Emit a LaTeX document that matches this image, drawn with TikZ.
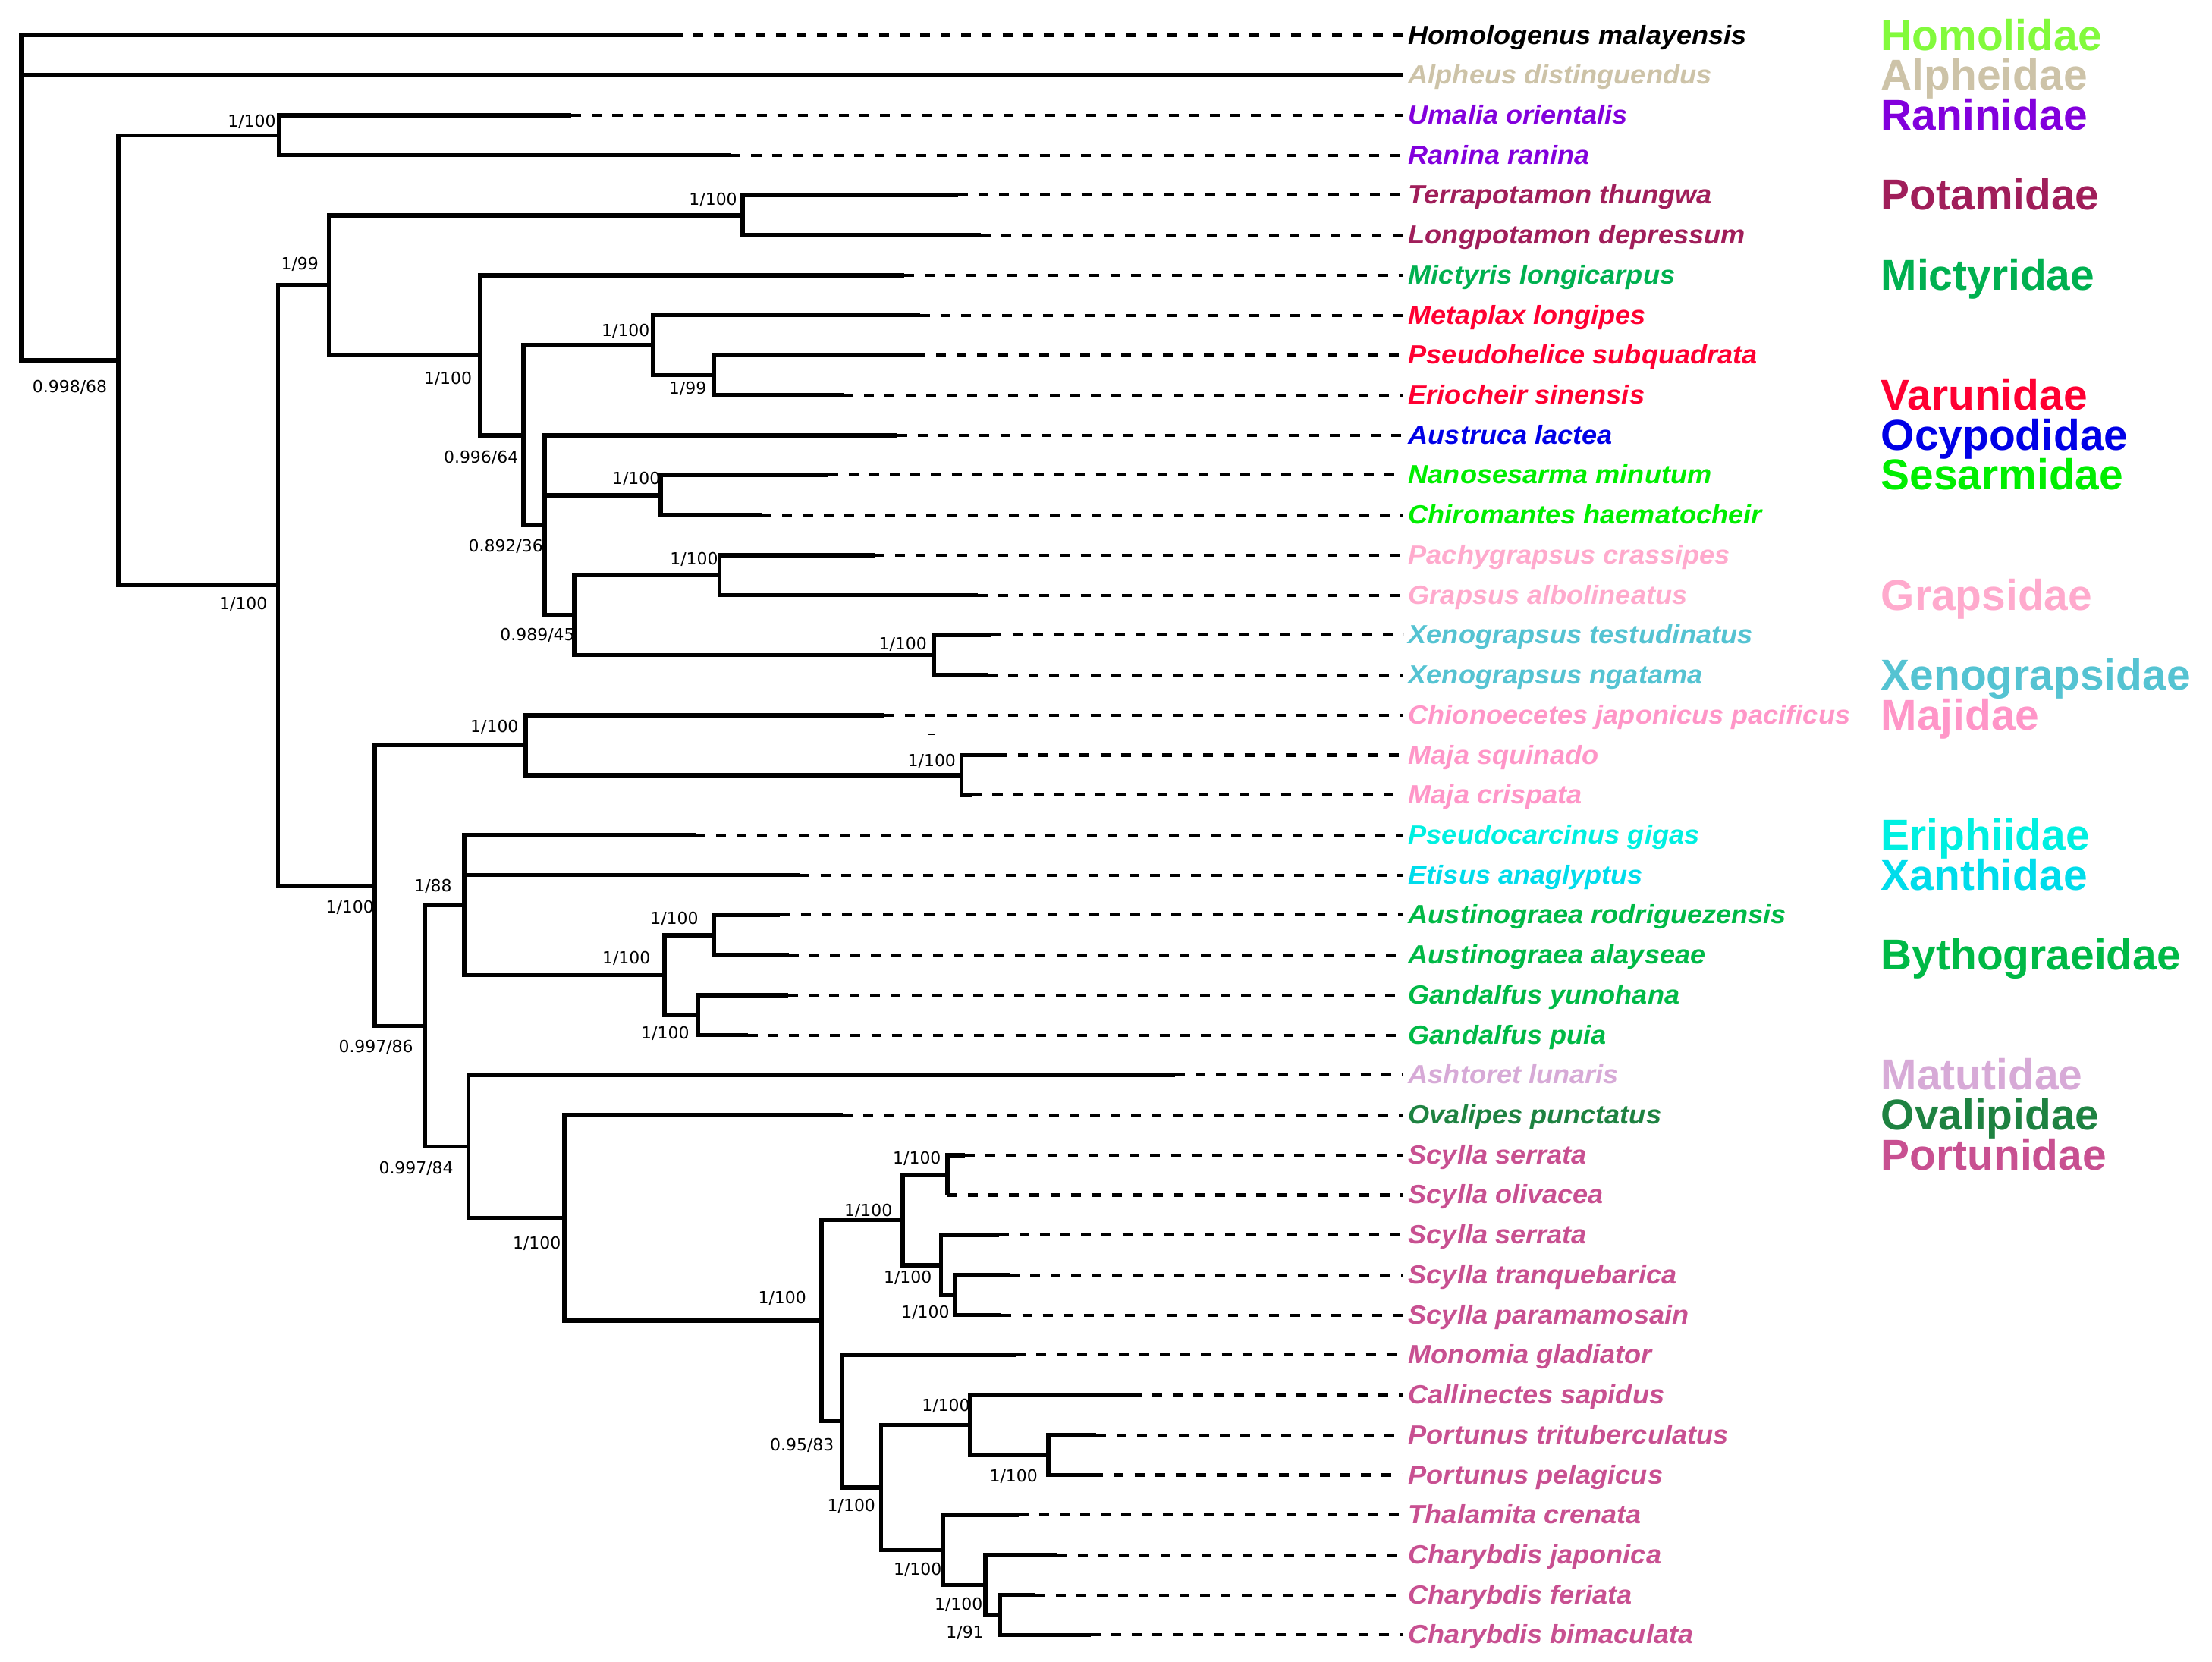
\documentclass[tikz,border=0pt]{standalone}
\usepackage{fontspec}
\usepackage{color}
\usepackage{tikz}
\newfontfamily\leaffont[FakeStretch=1.045]{Liberation Sans Bold Italic}
\newfontfamily\famfont{Liberation Sans}
\newfontfamily\suppfont{DejaVu Sans}
\definecolor{homolidae}{RGB}{130,250,60}
\definecolor{alpheidae}{RGB}{205,195,168}
\definecolor{raninidae}{RGB}{130,0,220}
\definecolor{potamidae}{RGB}{160,30,90}
\definecolor{mictyridae}{RGB}{0,176,80}
\definecolor{varunidae}{RGB}{255,0,50}
\definecolor{ocypodidae}{RGB}{0,0,230}
\definecolor{sesarmidae}{RGB}{0,238,0}
\definecolor{grapsidae}{RGB}{255,170,205}
\definecolor{xenograpsidae}{RGB}{85,195,210}
\definecolor{majidae}{RGB}{255,150,200}
\definecolor{eriphiidae}{RGB}{0,240,225}
\definecolor{xanthidae}{RGB}{0,220,235}
\definecolor{bythograeidae}{RGB}{0,185,70}
\definecolor{matutidae}{RGB}{215,170,215}
\definecolor{ovalipidae}{RGB}{30,130,65}
\definecolor{portunidae}{RGB}{200,80,145}

\begin{document}
\begin{tikzpicture}[x=0.5pt,y=-0.5pt,
  branch/.style={line width=1.5pt},
  tipline/.style={line width=1.1pt,dash pattern=on 3.5pt off 3.8pt},
  leaf/.style={anchor=west,inner sep=0pt,text height=8pt,text depth=1.8pt,font=\leaffont\fontsize{9.3}{11}\selectfont},
  fam/.style={anchor=west,inner sep=0pt,text height=13pt,text depth=2.5pt,font=\famfont\bfseries\fontsize{15.3}{18}\selectfont},
  supp/.style={inner sep=0pt,text height=4.3pt,text depth=0pt,font=\suppfont\fontsize{5.9}{7}\selectfont}]
\useasboundingbox (0,0) rectangle (1568,1178);

\coordinate (root) at (15,140.2);
\coordinate (A) at (84,255.4);
\coordinate (ran) at (197.5,95.9);
\coordinate (B) at (197,414.9);
\coordinate (C) at (233,202.2);
\coordinate (pot) at (526.5,152.6);
\coordinate (D) at (340,251.8);
\coordinate (E) at (371,308.5);
\coordinate (F) at (463,244.7);
\coordinate (G) at (506,266);
\coordinate (H) at (386,372.3);
\coordinate (ses) at (468.5,351);
\coordinate (I) at (407,436.1);
\coordinate (gra) at (510,407.7);
\coordinate (xen) at (662,464.4);
\coordinate (J) at (265.5,627.7);
\coordinate (maj) at (372.5,528.2);
\coordinate (maja) at (681.5,549.5);
\coordinate (K) at (301,727.2);
\coordinate (L) at (329,641.6);
\coordinate (M) at (471,691.2);
\coordinate (aus) at (506,662.9);
\coordinate (gan) at (495,719.6);
\coordinate (N) at (332,812.7);
\coordinate (O) at (400,863.3);
\coordinate (P) at (582.5,936.2);
\coordinate (Q) at (640,864.9);
\coordinate (R) at (671.5,833);
\coordinate (S) at (667,896.8);
\coordinate (T) at (677,918);
\coordinate (U) at (597,1007.5);
\coordinate (V) at (624.5,1054.5);
\coordinate (W) at (687.5,1010.2);
\coordinate (X) at (743,1031.4);
\coordinate (Y) at (668.5,1098.8);
\coordinate (Z) at (698.5,1123.6);
\coordinate (AA) at (709,1144.8);

\coordinate (t0) at (477,25);
\coordinate (t1) at (995,53.35);
\coordinate (t2) at (405,81.7);
\coordinate (t3) at (518,110.05);
\coordinate (t4) at (679,138.4);
\coordinate (t5) at (695,166.75);
\coordinate (t6) at (641,195.1);
\coordinate (t7) at (652,223.45);
\coordinate (t8) at (649,251.8);
\coordinate (t9) at (598,280.15);
\coordinate (t10) at (636,308.5);
\coordinate (t11) at (587,336.85);
\coordinate (t12) at (540,365.2);
\coordinate (t13) at (620,393.55);
\coordinate (t14) at (693,421.9);
\coordinate (t15) at (703,450.25);
\coordinate (t16) at (700,478.6);
\coordinate (t17) at (627,506.95);
\coordinate (t18) at (707,535.3);
\coordinate (t19) at (689,563.65);
\coordinate (t20) at (493,592);
\coordinate (t21) at (567,620.35);
\coordinate (t22) at (553,648.7);
\coordinate (t23) at (559,677.05);
\coordinate (t24) at (558.5,705.4);
\coordinate (t25) at (530,733.75);
\coordinate (t26) at (833,762.1);
\coordinate (t27) at (597.5,790.45);
\coordinate (t28) at (684,818.8);
\coordinate (t29) at (671.5,847.15);
\coordinate (t30) at (708,875.5);
\coordinate (t31) at (715.5,903.85);
\coordinate (t32) at (710,932.2);
\coordinate (t33) at (720,960.55);
\coordinate (t34) at (802,988.9);
\coordinate (t35) at (777,1017.25);
\coordinate (t36) at (775,1045.6);
\coordinate (t37) at (722,1073.95);
\coordinate (t38) at (749.5,1102.3);
\coordinate (t39) at (734,1130.65);
\coordinate (t40) at (773,1159);

\draw[branch] (root) |- (t0) (root) |- (t1) (root) |- (A);
\draw[branch] (A) |- (ran) (A) |- (B);
\draw[branch] (ran) |- (t2) (ran) |- (t3);
\draw[branch] (B) |- (C) (B) |- (J);
\draw[branch] (C) |- (pot) (C) |- (D);
\draw[branch] (pot) |- (t4) (pot) |- (t5);
\draw[branch] (D) |- (t6) (D) |- (E);
\draw[branch] (E) |- (F) (E) |- (H);
\draw[branch] (F) |- (t7) (F) |- (G);
\draw[branch] (G) |- (t8) (G) |- (t9);
\draw[branch] (H) |- (t10) (H) |- (ses) (H) |- (I);
\draw[branch] (ses) |- (t11) (ses) |- (t12);
\draw[branch] (I) |- (gra) (I) |- (xen);
\draw[branch] (gra) |- (t13) (gra) |- (t14);
\draw[branch] (xen) |- (t15) (xen) |- (t16);
\draw[branch] (J) |- (maj) (J) |- (K);
\draw[branch] (maj) |- (t17) (maj) |- (maja);
\draw[branch] (maja) |- (t18) (maja) |- (t19);
\draw[branch] (K) |- (L) (K) |- (N);
\draw[branch] (L) |- (t20) (L) |- (t21) (L) |- (M);
\draw[branch] (M) |- (aus) (M) |- (gan);
\draw[branch] (aus) |- (t22) (aus) |- (t23);
\draw[branch] (gan) |- (t24) (gan) |- (t25);
\draw[branch] (N) |- (t26) (N) |- (O);
\draw[branch] (O) |- (t27) (O) |- (P);
\draw[branch] (P) |- (Q) (P) |- (U);
\draw[branch] (Q) |- (R) (Q) |- (S);
\draw[branch] (R) |- (t28) (R) |- (t29);
\draw[branch] (S) |- (t30) (S) |- (T);
\draw[branch] (T) |- (t31) (T) |- (t32);
\draw[branch] (U) |- (t33) (U) |- (V);
\draw[branch] (V) |- (W) (V) |- (Y);
\draw[branch] (W) |- (t34) (W) |- (X);
\draw[branch] (X) |- (t35) (X) |- (t36);
\draw[branch] (Y) |- (t37) (Y) |- (Z);
\draw[branch] (Z) |- (t38) (Z) |- (AA);
\draw[branch] (AA) |- (t39) (AA) |- (t40);

\node[leaf] (l0) at (998,25) {Homologenus malayensis};
\node[leaf,text=alpheidae] (l1) at (998,53.35) {Alpheus distinguendus};
\node[leaf,text=raninidae] (l2) at (998,81.7) {Umalia orientalis};
\node[leaf,text=raninidae] (l3) at (998,110.05) {Ranina ranina};
\node[leaf,text=potamidae] (l4) at (998,138.4) {Terrapotamon thungwa};
\node[leaf,text=potamidae] (l5) at (998,166.75) {Longpotamon depressum};
\node[leaf,text=mictyridae] (l6) at (998,195.1) {Mictyris longicarpus};
\node[leaf,text=varunidae] (l7) at (998,223.45) {Metaplax longipes};
\node[leaf,text=varunidae] (l8) at (998,251.8) {Pseudohelice subquadrata};
\node[leaf,text=varunidae] (l9) at (998,280.15) {Eriocheir sinensis};
\node[leaf,text=ocypodidae] (l10) at (998,308.5) {Austruca lactea};
\node[leaf,text=sesarmidae] (l11) at (998,336.85) {Nanosesarma minutum};
\node[leaf,text=sesarmidae] (l12) at (998,365.2) {Chiromantes haematocheir};
\node[leaf,text=grapsidae] (l13) at (998,393.55) {Pachygrapsus crassipes};
\node[leaf,text=grapsidae] (l14) at (998,421.9) {Grapsus albolineatus};
\node[leaf,text=xenograpsidae] (l15) at (998,450.25) {Xenograpsus testudinatus};
\node[leaf,text=xenograpsidae] (l16) at (998,478.6) {Xenograpsus ngatama};
\node[leaf,text=majidae] (l17) at (998,506.95) {Chionoecetes japonicus pacificus};
\node[leaf,text=majidae] (l18) at (998,535.3) {Maja squinado};
\node[leaf,text=majidae] (l19) at (998,563.65) {Maja crispata};
\node[leaf,text=eriphiidae] (l20) at (998,592) {Pseudocarcinus gigas};
\node[leaf,text=xanthidae] (l21) at (998,620.35) {Etisus anaglyptus};
\node[leaf,text=bythograeidae] (l22) at (998,648.7) {Austinograea rodriguezensis};
\node[leaf,text=bythograeidae] (l23) at (998,677.05) {Austinograea alayseae};
\node[leaf,text=bythograeidae] (l24) at (998,705.4) {Gandalfus yunohana};
\node[leaf,text=bythograeidae] (l25) at (998,733.75) {Gandalfus puia};
\node[leaf,text=matutidae] (l26) at (998,762.1) {Ashtoret lunaris};
\node[leaf,text=ovalipidae] (l27) at (998,790.45) {Ovalipes punctatus};
\node[leaf,text=portunidae] (l28) at (998,818.8) {Scylla serrata};
\node[leaf,text=portunidae] (l29) at (998,847.15) {Scylla olivacea};
\node[leaf,text=portunidae] (l30) at (998,875.5) {Scylla serrata};
\node[leaf,text=portunidae] (l31) at (998,903.85) {Scylla tranquebarica};
\node[leaf,text=portunidae] (l32) at (998,932.2) {Scylla paramamosain};
\node[leaf,text=portunidae] (l33) at (998,960.55) {Monomia gladiator};
\node[leaf,text=portunidae] (l34) at (998,988.9) {Callinectes sapidus};
\node[leaf,text=portunidae] (l35) at (998,1017.25) {Portunus trituberculatus};
\node[leaf,text=portunidae] (l36) at (998,1045.6) {Portunus pelagicus};
\node[leaf,text=portunidae] (l37) at (998,1073.95) {Thalamita crenata};
\node[leaf,text=portunidae] (l38) at (998,1102.3) {Charybdis japonica};
\node[leaf,text=portunidae] (l39) at (998,1130.65) {Charybdis feriata};
\node[leaf,text=portunidae] (l40) at (998,1159) {Charybdis bimaculata};

\draw[tipline] (t0) -- ([xshift=-1.5pt]l0.west);
\draw[tipline] (t2) -- ([xshift=-1.5pt]l2.west);
\draw[tipline] (t3) -- ([xshift=-1.5pt]l3.west);
\draw[tipline] (t4) -- ([xshift=-1.5pt]l4.west);
\draw[tipline] (t5) -- ([xshift=-1.5pt]l5.west);
\draw[tipline] (t6) -- ([xshift=-1.5pt]l6.west);
\draw[tipline] (t7) -- ([xshift=-1.5pt]l7.west);
\draw[tipline] (t8) -- ([xshift=-1.5pt]l8.west);
\draw[tipline] (t9) -- ([xshift=-1.5pt]l9.west);
\draw[tipline] (t10) -- ([xshift=-1.5pt]l10.west);
\draw[tipline] (t11) -- ([xshift=-1.5pt]l11.west);
\draw[tipline] (t12) -- ([xshift=-1.5pt]l12.west);
\draw[tipline] (t13) -- ([xshift=-1.5pt]l13.west);
\draw[tipline] (t14) -- ([xshift=-1.5pt]l14.west);
\draw[tipline] (t15) -- ([xshift=-1.5pt]l15.west);
\draw[tipline] (t16) -- ([xshift=-1.5pt]l16.west);
\draw[tipline] (t17) -- ([xshift=-1.5pt]l17.west);
\draw[tipline] (t18) -- ([xshift=-1.5pt]l18.west);
\draw[tipline] (t19) -- ([xshift=-1.5pt]l19.west);
\draw[tipline] (t20) -- ([xshift=-1.5pt]l20.west);
\draw[tipline] (t21) -- ([xshift=-1.5pt]l21.west);
\draw[tipline] (t22) -- ([xshift=-1.5pt]l22.west);
\draw[tipline] (t23) -- ([xshift=-1.5pt]l23.west);
\draw[tipline] (t24) -- ([xshift=-1.5pt]l24.west);
\draw[tipline] (t25) -- ([xshift=-1.5pt]l25.west);
\draw[tipline] (t26) -- ([xshift=-1.5pt]l26.west);
\draw[tipline] (t27) -- ([xshift=-1.5pt]l27.west);
\draw[tipline] (t28) -- ([xshift=-1.5pt]l28.west);
\draw[tipline] (t29) -- ([xshift=-1.5pt]l29.west);
\draw[tipline] (t30) -- ([xshift=-1.5pt]l30.west);
\draw[tipline] (t31) -- ([xshift=-1.5pt]l31.west);
\draw[tipline] (t32) -- ([xshift=-1.5pt]l32.west);
\draw[tipline] (t33) -- ([xshift=-1.5pt]l33.west);
\draw[tipline] (t34) -- ([xshift=-1.5pt]l34.west);
\draw[tipline] (t35) -- ([xshift=-1.5pt]l35.west);
\draw[tipline] (t36) -- ([xshift=-1.5pt]l36.west);
\draw[tipline] (t37) -- ([xshift=-1.5pt]l37.west);
\draw[tipline] (t38) -- ([xshift=-1.5pt]l38.west);
\draw[tipline] (t39) -- ([xshift=-1.5pt]l39.west);
\draw[tipline] (t40) -- ([xshift=-1.5pt]l40.west);
\draw[line width=0.5pt] (658,520.5) -- (663,520.5);

\node[supp] (sA) at (49.5,274) {0.998/68};
\node[supp] (sran) at (178.5,86) {1/100};
\node[supp] (sB) at (172.5,428) {1/100};
\node[supp] (sC) at (212.5,187) {1/99};
\node[supp] (spot) at (505.5,141) {1/100};
\node[supp] (sD) at (317.5,268) {1/100};
\node[supp] (sE) at (341,324) {0.996/64};
\node[supp] (sF) at (443.5,234) {1/100};
\node[supp] (sG) at (487.5,275) {1/99};
\node[supp] (sH) at (358.5,387) {0.892/36};
\node[supp] (sses) at (451,339) {1/100};
\node[supp] (sI) at (381,450) {0.989/45};
\node[supp] (sgra) at (492,396) {1/100};
\node[supp] (sxen) at (640,456) {1/100};
\node[supp] (smaj) at (350.5,515) {1/100};
\node[supp] (smaja) at (660.5,539) {1/100};
\node[supp] (sJ) at (248,643) {1/100};
\node[supp] (sK) at (266.5,742) {0.997/86};
\node[supp] (sL) at (307,628) {1/88};
\node[supp] (sM) at (444,679) {1/100};
\node[supp] (saus) at (478,651) {1/100};
\node[supp] (sgan) at (471.5,732) {1/100};
\node[supp] (sN) at (295,828) {0.997/84};
\node[supp] (sO) at (380.5,881) {1/100};
\node[supp] (sP) at (554.5,920) {1/100};
\node[supp] (sQ) at (615.5,858) {1/100};
\node[supp] (sR) at (650,821) {1/100};
\node[supp] (sS) at (643.5,905) {1/100};
\node[supp] (sT) at (656,930) {1/100};
\node[supp] (sU) at (568.5,1024) {0.95/83};
\node[supp] (sV) at (603.5,1067) {1/100};
\node[supp] (sW) at (670.5,996) {1/100};
\node[supp] (sX) at (718.5,1046) {1/100};
\node[supp] (sY) at (650.5,1112) {1/100};
\node[supp] (sZ) at (679.5,1137) {1/100};
\node[supp] (sAA) at (684,1157) {1/91};

\node[fam,text=homolidae] (f0) at (1333,25) {Homolidae};
\node[fam,text=alpheidae] (f1) at (1333,53.35) {Alpheidae};
\node[fam,text=raninidae] (f2) at (1333,81.7) {Raninidae};
\node[fam,text=potamidae] (f4) at (1333,138.4) {Potamidae};
\node[fam,text=mictyridae] (f6) at (1333,195.1) {Mictyridae};
\node[fam,text=varunidae] (f9) at (1333,280.15) {Varunidae};
\node[fam,text=ocypodidae] (f10) at (1333,308.5) {Ocypodidae};
\node[fam,text=sesarmidae] (f11) at (1333,336.85) {Sesarmidae};
\node[fam,text=grapsidae] (f14) at (1333,421.9) {Grapsidae};
\node[fam,text=xenograpsidae] (f16) at (1333,478.6) {Xenograpsidae};
\node[fam,text=majidae] (f17) at (1333,506.95) {Majidae};
\node[fam,text=eriphiidae] (f20) at (1333,592) {Eriphiidae};
\node[fam,text=xanthidae] (f21) at (1333,620.35) {Xanthidae};
\node[fam,text=bythograeidae] (f23) at (1333,677.05) {Bythograeidae};
\node[fam,text=matutidae] (f26) at (1333,762.1) {Matutidae};
\node[fam,text=ovalipidae] (f27) at (1333,790.45) {Ovalipidae};
\node[fam,text=portunidae] (f28) at (1333,818.8) {Portunidae};
\end{tikzpicture}
\end{document}
